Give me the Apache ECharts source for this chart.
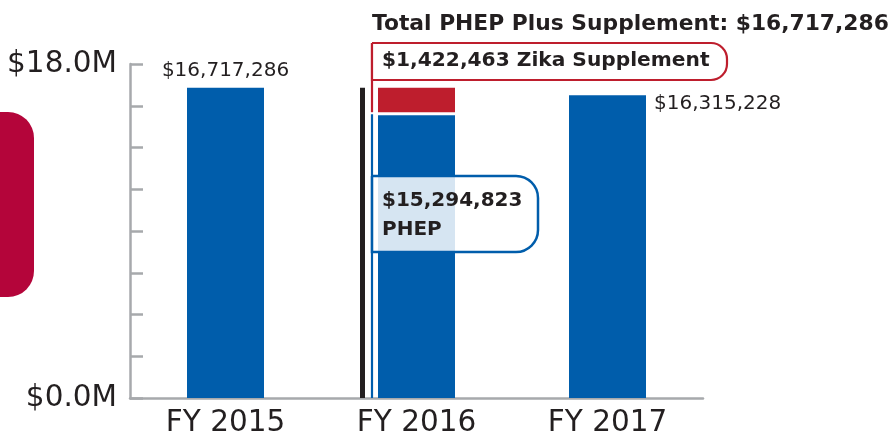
<!DOCTYPE html>
<html><head><meta charset="utf-8">
<script src="https://cdn.jsdelivr.net/npm/echarts@6/dist/echarts.min.js"></script>
<style>html,body{margin:0;padding:0;background:#fff}#c{width:893px;height:438px}</style>
</head><body><div id="c"></div>
<script>
const categories = ['FY 2015', 'FY 2016', 'FY 2017'];
const phepValues = [16717286, 15294823, 16315228];
const zikaValues = [null, 1422463, null];
const totalLabels = ['$16,717,286', null, '$16,315,228'];
const yTickLabels = {0: '$0.0M', 18000000: '$18.0M'};
const titleText = 'Total PHEP Plus Supplement: $16,717,286';
const zikaText = '$1,422,463 Zika Supplement';
const phepText = ['$15,294,823', 'PHEP'];

const FONT = '"DejaVu Sans"';
const DARK = '#231f20';
const GREY = '#a7a9ac';
const BLUE = '#005dab';
const RED = '#be1e2d';
const BAR_W = 77;

const chart = echarts.init(document.getElementById('c'), null, {renderer: 'canvas'});
const option = {
  animation: false,
  grid: {left: 130, right: 190, top: 64, bottom: 38},
  xAxis: {
    type: 'category', data: categories,
    axisLine: {lineStyle: {color: GREY, width: 2.5}},
    axisTick: {length: 8, lineStyle: {color: GREY, width: 2.5}},
    axisLabel: {color: DARK, fontFamily: FONT, fontSize: 29.5, fontWeight: 'normal', margin: 10}
  },
  yAxis: {
    type: 'value', min: 0, max: 18000000, interval: 2250000,
    axisLine: {show: true, lineStyle: {color: GREY, width: 2.5}},
    axisTick: {show: true, inside: true, length: 13, lineStyle: {color: GREY, width: 2.5}},
    splitLine: {show: false},
    axisLabel: {
      color: DARK, fontFamily: FONT, fontSize: 29.5, fontWeight: 'normal', margin: 13,
      formatter: v => (yTickLabels[v] !== undefined ? yTickLabels[v] : '')
    }
  },
  series: [
    {
      name: 'PHEP', type: 'bar', stack: 'a', barWidth: BAR_W,
      itemStyle: {color: BLUE},
      data: phepValues.map((v, i) => {
        const d = {value: v};
        if (i === 0) d.label = {show: true, position: 'top', distance: 7, formatter: totalLabels[0],
          color: DARK, fontFamily: FONT, fontSize: 20, fontWeight: 'normal'};
        if (i === 2) d.label = {show: true, position: ['100%', 0], offset: [8, -1], align: 'left', verticalAlign: 'top',
          formatter: totalLabels[2], color: DARK, fontFamily: FONT, fontSize: 20, fontWeight: 'normal'};
        return d;
      })
    },
    {
      name: 'Zika', type: 'bar', stack: 'a', barWidth: BAR_W,
      itemStyle: {color: RED},
      data: zikaValues
    }
  ]
};
chart.setOption(option);

function addGraphics() {
  const idx = 1;
  const total = phepValues[idx] + zikaValues[idx];
  const cx = chart.convertToPixel({xAxisIndex: 0}, categories[idx]);
  const yTotal = chart.convertToPixel({yAxisIndex: 0}, total);
  const yPhep = chart.convertToPixel({yAxisIndex: 0}, phepValues[idx]);
  const y0 = chart.convertToPixel({yAxisIndex: 0}, 0);
  const barLeft = cx - BAR_W / 2;
  const calloutX = barLeft - 6;
  const Z = 20;
  chart.setOption({
    graphic: [
      {type: 'rect', z: Z, shape: {x: -40, y: 112, width: 74, height: 185, r: 26}, style: {fill: '#b4053a'}},
      {type: 'line', z: Z, shape: {x1: barLeft, y1: yPhep - 0.5, x2: barLeft + BAR_W, y2: yPhep - 0.5}, style: {stroke: '#fff', lineWidth: 3}},
      {type: 'line', z: Z, shape: {x1: barLeft - 15.5, y1: yTotal, x2: barLeft - 15.5, y2: y0}, style: {stroke: DARK, lineWidth: 5}},
      {type: 'line', z: Z, shape: {x1: calloutX, y1: yPhep, x2: calloutX, y2: y0}, style: {stroke: BLUE, lineWidth: 2.2}},
      {type: 'line', z: Z, shape: {x1: calloutX, y1: 43, x2: calloutX, y2: yPhep - 2}, style: {stroke: RED, lineWidth: 2.2}},
      {type: 'rect', z: Z, shape: {x: calloutX, y: 43, width: 355, height: 37, r: [0, 16, 16, 0]},
        style: {fill: '#fff', stroke: RED, lineWidth: 2.2}},
      {type: 'text', z: Z + 1, x: calloutX + 10, y: 61, style: {text: zikaText, fill: DARK, font: 'bold 20.2px ' + FONT, verticalAlign: 'middle'}},
      {type: 'rect', z: Z, shape: {x: calloutX, y: 176, width: 166, height: 76, r: [0, 22, 22, 0]},
        style: {fill: 'rgba(255,255,255,0.84)', stroke: BLUE, lineWidth: 2.5}},
      {type: 'text', z: Z + 1, x: calloutX + 10, y: 201, style: {text: phepText[0], fill: DARK, font: 'bold 20px ' + FONT, verticalAlign: 'middle'}},
      {type: 'text', z: Z + 1, x: calloutX + 10, y: 229.5, style: {text: phepText[1], fill: DARK, font: 'bold 20px ' + FONT, verticalAlign: 'middle'}},
      {type: 'text', z: Z + 1, x: calloutX, y: 24, style: {text: titleText, fill: DARK, font: 'bold 21.8px ' + FONT, verticalAlign: 'middle'}}
    ]
  });
}
addGraphics();
</script>
</body></html>
